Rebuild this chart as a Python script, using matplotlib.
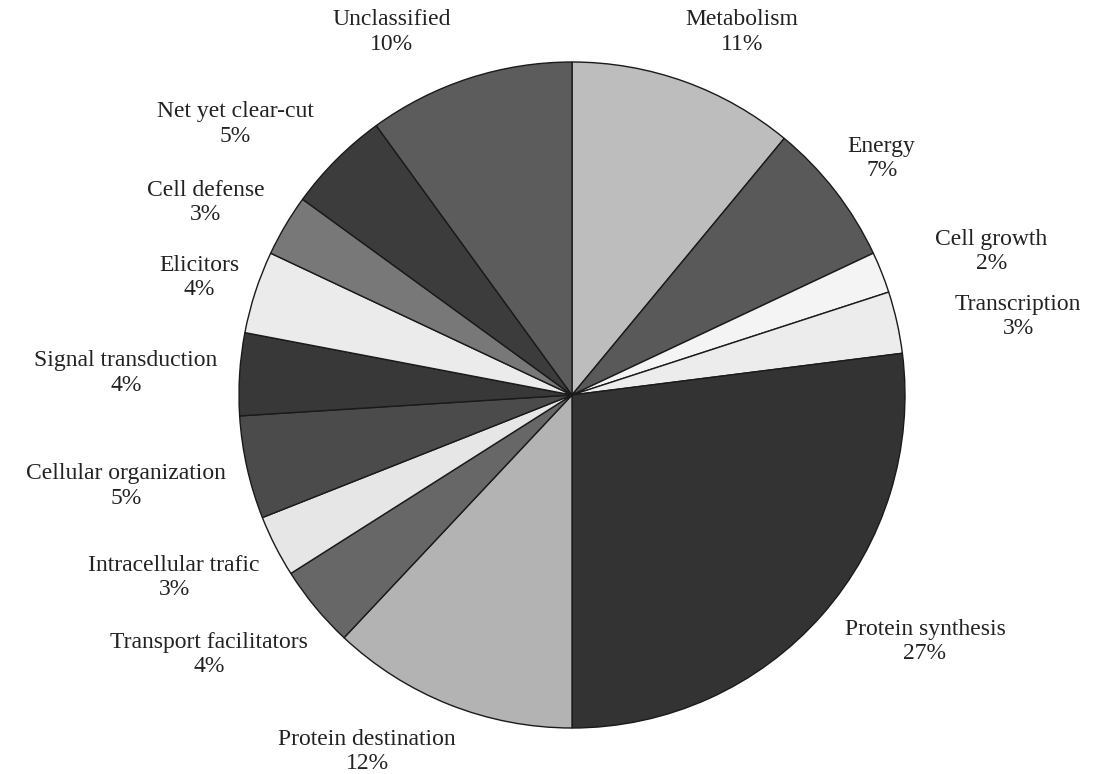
import numpy as np
import matplotlib.pyplot as plt

# Functional categories (clockwise from 12 o'clock) and their shares in %
categories = ['Metabolism', 'Energy', 'Cell growth', 'Transcription',
              'Protein synthesis', 'Protein destination', 'Transport facilitators',
              'Intracellular trafic', 'Cellular organization', 'Signal transduction',
              'Elicitors', 'Cell defense', 'Net yet clear-cut', 'Unclassified']
shares = [11, 7, 2, 3, 27, 12, 4, 3, 5, 4, 4, 3, 5, 10]

# grey shades of the wedges
colors = ['#bdbdbd', '#595959', '#f4f4f4', '#ececec', '#333333', '#b3b3b3',
          '#676767', '#e6e6e6', '#4b4b4b', '#383838', '#ebebeb', '#787878',
          '#3c3c3c', '#5c5c5c']

# label centres, in units of the pie radius
label_pos = [(0.51, 1.09), (0.93, 0.71), (1.26, 0.43), (1.34, 0.235),
             (1.06, -0.74), (-0.615, -1.07), (-1.09, -0.78), (-1.195, -0.547),
             (-1.34, -0.273), (-1.34, 0.066), (-1.12, 0.354), (-1.1, 0.577),
             (-1.01, 0.814), (-0.541, 1.09)]

fig = plt.figure(figsize=(11.03, 7.74), dpi=100)
ax = fig.add_axes([0, 0, 1, 1])

ax.pie(shares, colors=colors, startangle=90, counterclock=False, radius=1.0,
       wedgeprops=dict(edgecolor='#1a1a1a', linewidth=1.0))

for name, val, (x, y) in zip(categories, shares, label_pos):
    ax.text(x, y, f'{name}\n{val}%', ha='center', va='center',
            fontsize=17, family='Liberation Serif', color='#222222',
            linespacing=1.2)

# pie centre sits at about (572, 395) px with a radius of ~333 px
ax.set_xlim(-572 / 333, (1103 - 572) / 333)
ax.set_ylim(-(774 - 395) / 333, 395 / 333)
ax.set_aspect('equal')
ax.axis('off')

fig.savefig('out.png', dpi=100, facecolor='white')
